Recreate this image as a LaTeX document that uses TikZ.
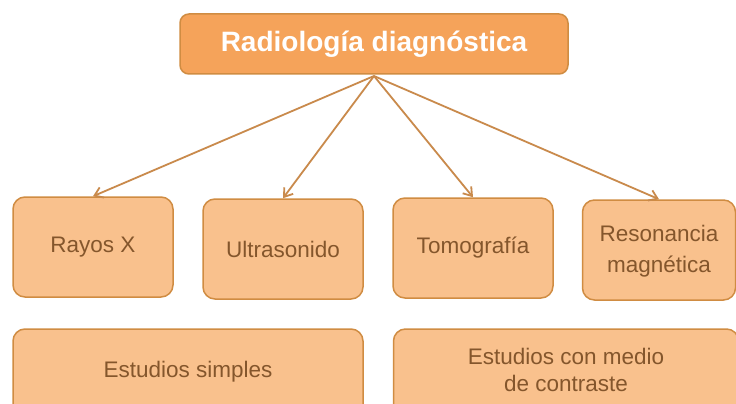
\documentclass[tikz,border=0pt]{standalone}
\usepackage{fontspec}
\setmainfont{Liberation Sans}
\usetikzlibrary{arrows.meta}
\definecolor{topfill}{HTML}{F5A35A}
\definecolor{boxfill}{HTML}{F9C18D}
\definecolor{edge}{HTML}{D08C42}
\definecolor{txt}{HTML}{84562C}
\definecolor{arr}{HTML}{C98A4C}
\tikzset{
  x=1pt,y=1pt,
  topbox/.style={draw=edge,line width=1.5pt,fill=topfill,rounded corners=9pt,minimum width=388pt,minimum height=60pt,text=white,font=\fontsize{28}{32}\selectfont\bfseries,inner sep=0pt},
  catbox/.style={draw=edge,line width=1.5pt,fill=boxfill,rounded corners=12pt,minimum width=160pt,minimum height=100pt,text=txt,font=\fontsize{22.5}{27}\selectfont,align=center,inner sep=0pt},
  lbl/.style={text=txt,font=\fontsize{22.5}{27}\selectfont,align=center,inner sep=0pt},
  widebox/.style={catbox,minimum width=350pt,minimum height=90pt},
  link/.style={draw=arr,line width=1.8pt,-{Straight Barb[length=8pt,width=11pt,line width=1.8pt]}}
}
\begin{document}
\begin{tikzpicture}
\clip (0,0) rectangle (736,-404);
\fill[white] (0,0) rectangle (736,-404);
\node[topbox] (top) at (374,-44) {Radiología diagnóstica};
\node[catbox] (rx) at (93,-247) {Rayos X};
\node[catbox] (us) at (283,-249) {Ultrasonido};
\node[catbox] (to) at (473,-248) {Tomografía};
\node[catbox,minimum width=153pt] (rm) at (659,-250) {};
\node[lbl,font=\fontsize{22.5}{31}\selectfont] (rmt) at (659,-251) {Resonancia\\magnética};
\node[widebox] (es) at (188,-374) {};
\node[lbl] (est) at (188,-372) {Estudios simples};
\node[widebox,minimum width=345pt] (ec) at (566,-374) {};
\node[lbl] (ect) at (566,-370) {Estudios con medio\\de contraste};
\coordinate (hub) at (374,-76);
\draw[link] (hub) -- (rx.north);
\draw[link] (hub) -- (us.north);
\draw[link] (hub) -- (to.north);
\draw[link] (hub) -- (rm.north);
\end{tikzpicture}
\end{document}
